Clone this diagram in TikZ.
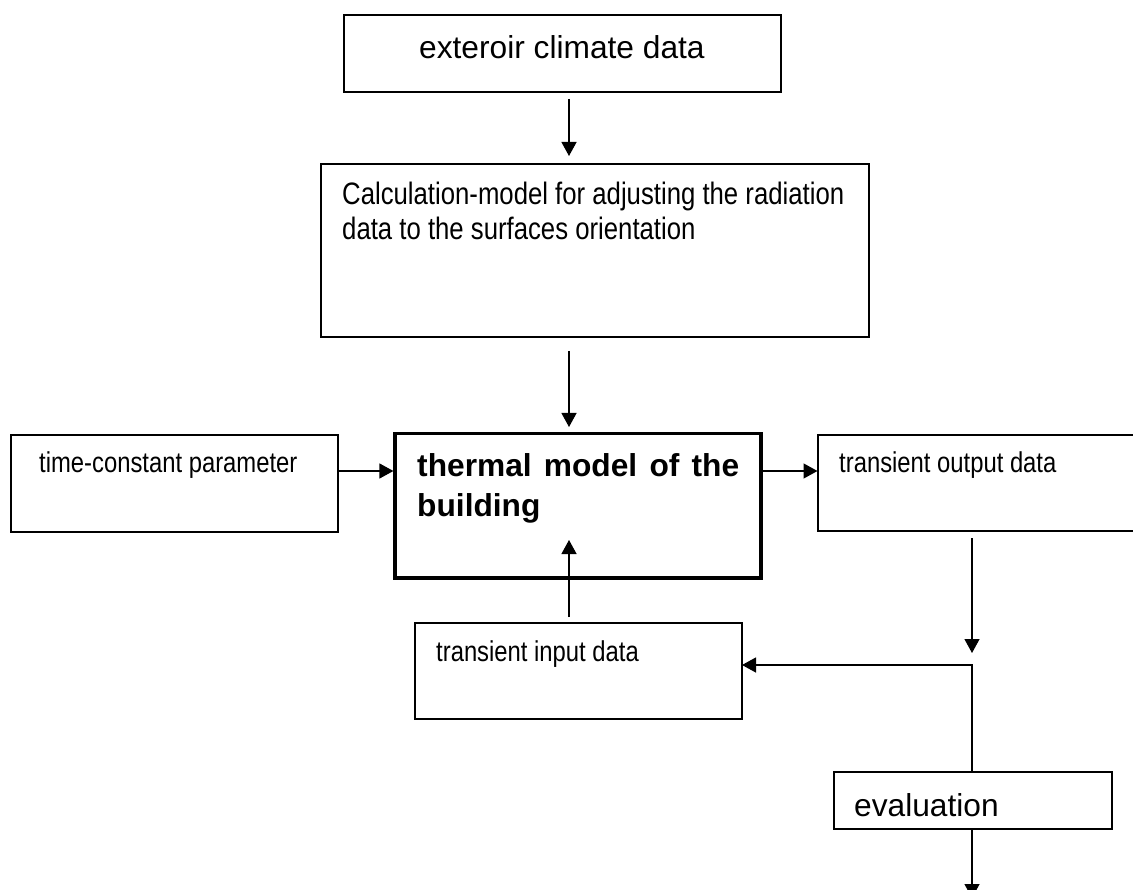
\documentclass[tikz,border=0pt]{standalone}
\usepackage{fontspec}
\setmainfont{Liberation Sans}
\newfontfamily\narrowfont[FakeStretch=0.83]{Liberation Sans}
\usetikzlibrary{arrows.meta}
\begin{document}
\begin{tikzpicture}[x=1pt,y=-1pt,
  box/.style={draw, line width=1.6pt, inner sep=0pt, outer sep=0pt, anchor=north west},
  arr/.style={line width=1.3pt, -{Triangle[length=14pt,width=15pt]}},
  txt/.style={anchor=base west, inner sep=0pt},
  big/.style={font=\fontsize{31.7}{35}\selectfont},
  small/.style={font=\narrowfont\fontsize{28.7}{33}\selectfont},
  mid/.style={font=\narrowfont\fontsize{31}{35}\selectfont}]
\useasboundingbox (0,0) rectangle (1133,890);
% boxes
\node[box, minimum width=437pt, minimum height=77pt] (ext) at (344,15) {};
\node[box, minimum width=548pt, minimum height=173pt] (calc) at (321,164) {};
\node[box, line width=3.3pt, minimum width=366pt, minimum height=144.5pt] (therm) at (395,433.5) {};
\node[box, minimum width=327pt, minimum height=97pt] (time) at (11,435) {};
\node[box, minimum width=360pt, minimum height=96pt] (out) at (818,435) {};
\node[box, minimum width=327pt, minimum height=96pt] (inp) at (415,623) {};
\node[box, minimum width=278pt, minimum height=57pt] (eval) at (834,772) {};
% texts
\node[txt, big] (t1) at (419,59) {exteroir climate data};
\node[txt, mid] (t2) at (342,205) {Calculation-model for adjusting the radiation};
\node[txt, mid] (t3) at (342,240) {data to the surfaces orientation};
\node[txt, big] (t4) at (417,477) {\bfseries\makebox[322pt][s]{thermal model of the}};
\node[txt, big] (t5) at (417,516) {\bfseries building};
\node[txt, small] (t6) at (39,473) {time-constant parameter};
\node[txt, small] (t7) at (839,473) {transient output data};
\node[txt, small] (t8) at (436,661) {transient input data};
\node[txt, big] (t9) at (854,816) {evaluation};
% helper coordinates
\coordinate (ax) at (569,0);
\coordinate (rx) at (972,0);
\coordinate (ay) at (0,471);
\coordinate (j) at (972,665);
\coordinate (jtop) at (972,653);
\coordinate (intip) at (569,540);
\coordinate (endb) at (972,898);
% connectors
\draw[arr, shorten <=7pt, shorten >=8pt] (ext.south -| ax) -- (calc.north -| ax);
\draw[arr, shorten <=14pt, shorten >=6.5pt] (calc.south -| ax) -- (therm.north -| ax);
\draw[arr, shorten >=1.6pt] (time.east |- ay) -- (therm.west |- ay);
\draw[arr, shorten <=1.6pt, shorten >=0.5pt] (therm.east |- ay) -- (out.west |- ay);
\draw[arr, shorten <=7pt] (out.south -| rx) -- (jtop);
\draw[arr] (eval.north -| j) -- (j) -- (inp.east |- j);
\draw[arr, shorten <=6pt] (inp.north -| ax) -- (intip);
\draw[arr] (eval.south -| rx) -- (endb);
\end{tikzpicture}
\end{document}
